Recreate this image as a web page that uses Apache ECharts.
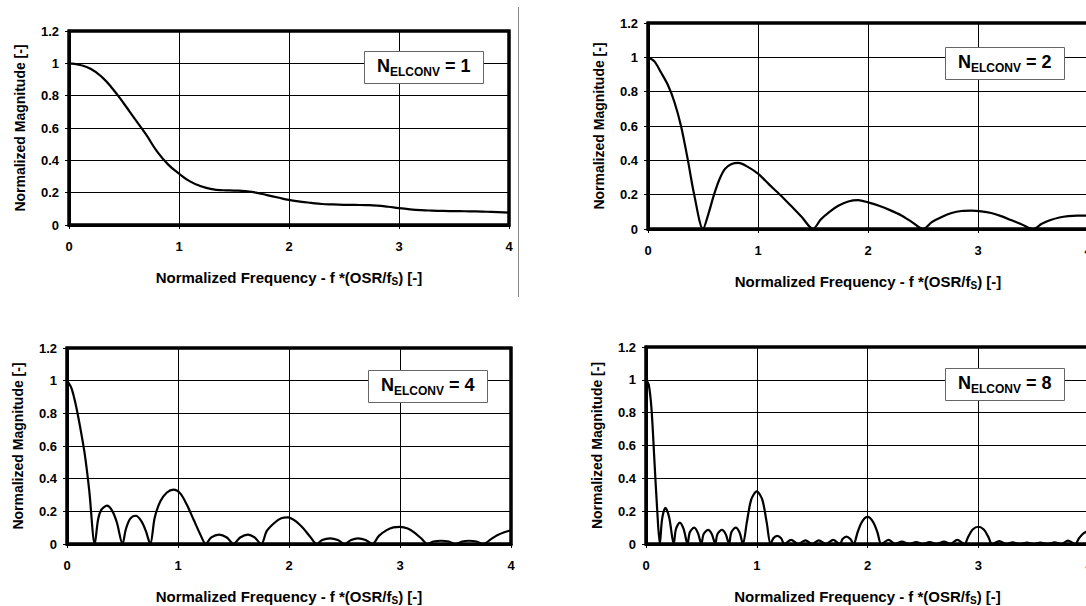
<!DOCTYPE html>
<html><head><meta charset="utf-8">
<script src="https://cdn.jsdelivr.net/npm/echarts@6/dist/echarts.min.js"></script>
<style>html,body{margin:0;padding:0;background:#fff}#c{width:1086px;height:606px}</style>
</head><body><div id="c"></div>
<script>
// ---- data ----
const xTicks = [0, 1, 2, 3, 4];
const yTicks = [0, 0.2, 0.4, 0.6, 0.8, 1, 1.2];
const nValues = ['1', '2', '4', '8'];
const xTitle = ['Normalized Frequency - f *(OSR/f', 'S', ') [-]'];
const yTitle = 'Normalized Magnitude [-]';

const x1 = [0,0.1,0.2,0.3,0.4,0.5,0.6,0.7,0.8,0.9,1.0,1.1,1.2,1.3,1.4,1.5,1.6,1.7,1.8,1.9,2.0,2.1,2.2,2.3,2.4,2.5,2.6,2.7,2.8,2.9,3.0,3.1,3.2,3.3,3.4,3.5,3.6,3.7,3.8,3.9,4.0];
const y1 = [1.0,0.99,0.965,0.915,0.84,0.75,0.655,0.56,0.455,0.375,0.318,0.27,0.24,0.222,0.215,0.213,0.21,0.2,0.185,0.17,0.155,0.145,0.137,0.13,0.127,0.125,0.124,0.123,0.12,0.113,0.104,0.097,0.092,0.089,0.087,0.086,0.085,0.084,0.082,0.08,0.077];

const x2 = [0,0.06,0.12,0.18,0.24,0.3,0.36,0.42,0.5,0.55,0.6,0.65,0.7,0.76,0.82,0.9,1.0,1.1,1.2,1.3,1.4,1.5,1.57,1.65,1.73,1.82,1.91,2.0,2.1,2.2,2.3,2.4,2.5,2.58,2.67,2.76,2.85,2.94,3.03,3.12,3.21,3.3,3.4,3.5,3.58,3.66,3.74,3.82,3.9,4.0];
const y2 = [1.0,0.975,0.91,0.84,0.74,0.6,0.41,0.2,0.0,0.09,0.2,0.29,0.35,0.378,0.385,0.365,0.322,0.26,0.2,0.135,0.068,0.0,0.055,0.1,0.135,0.16,0.168,0.155,0.135,0.11,0.08,0.04,0.0,0.04,0.07,0.093,0.105,0.107,0.103,0.093,0.075,0.052,0.026,0.0,0.03,0.052,0.067,0.075,0.078,0.078];

const x4 = [0,0.04,0.08,0.12,0.16,0.2,0.25,
  0.28,0.31,0.36,0.41,0.45,0.5,
  0.53,0.57,0.62,0.67,0.71,0.75,
  0.79,0.84,0.9,0.96,1.02,1.08,1.14,1.2,1.25,
  1.3,1.37,1.44,1.5,
  1.56,1.63,1.69,1.75,
  1.8,1.87,1.93,1.99,2.06,2.13,2.19,2.25,
  2.3,2.37,2.44,2.5,
  2.56,2.62,2.69,2.75,
  2.81,2.88,2.94,3.0,3.07,3.13,3.19,3.25,
  3.3,3.37,3.44,3.5,
  3.56,3.62,3.69,3.75,
  3.82,3.88,3.94,4.0];
const y4 = [1.0,0.955,0.85,0.71,0.55,0.33,0.0,
  0.15,0.21,0.235,0.2,0.13,0.0,
  0.09,0.155,0.173,0.14,0.08,0.0,
  0.16,0.26,0.315,0.333,0.31,0.24,0.15,0.06,0.0,
  0.04,0.058,0.04,0.0,
  0.04,0.058,0.04,0.0,
  0.08,0.13,0.158,0.163,0.14,0.095,0.045,0.0,
  0.025,0.035,0.025,0.0,
  0.025,0.035,0.025,0.0,
  0.05,0.085,0.102,0.105,0.095,0.07,0.035,0.0,
  0.015,0.02,0.015,0.0,
  0.015,0.02,0.015,0.0,
  0.03,0.055,0.072,0.083];

const x8 = [0,0.025,0.05,0.075,0.1,0.125,
  0.145,0.175,0.21,0.25,
  0.27,0.305,0.34,0.375,
  0.395,0.435,0.47,0.5,
  0.52,0.56,0.595,0.625,
  0.645,0.685,0.72,0.75,
  0.77,0.81,0.845,0.875,
  0.91,0.95,1.0,1.05,1.09,1.125,
  1.15,1.185,1.22,1.25,
  1.31,1.375,1.44,1.5,1.56,1.625,1.69,1.75,
  1.775,1.81,1.845,1.875,
  1.91,1.95,2.0,2.05,2.09,2.125,
  2.19,2.25,2.31,2.375,2.44,2.5,2.56,2.625,2.69,2.75,2.81,2.875,
  2.91,2.95,3.0,3.05,3.09,3.125,
  3.19,3.25,3.31,3.375,3.44,3.5,3.56,3.625,3.69,3.75,3.81,3.875,
  3.91,3.95,4.0];
const y8 = [1.0,0.97,0.82,0.52,0.22,0.0,
  0.15,0.22,0.16,0.0,
  0.09,0.13,0.09,0.0,
  0.07,0.1,0.065,0.0,
  0.06,0.086,0.06,0.0,
  0.06,0.086,0.06,0.0,
  0.07,0.1,0.07,0.0,
  0.13,0.27,0.32,0.27,0.13,0.0,
  0.035,0.05,0.035,0.0,
  0.025,0.0,0.022,0.0,0.022,0.0,0.025,0.0,
  0.03,0.045,0.03,0.0,
  0.07,0.135,0.165,0.135,0.07,0.0,
  0.025,0.0,0.015,0.0,0.012,0.0,0.012,0.0,0.015,0.0,0.025,0.0,
  0.045,0.088,0.105,0.088,0.045,0.0,
  0.018,0.0,0.01,0.0,0.008,0.0,0.008,0.0,0.01,0.0,0.02,0.0,
  0.035,0.065,0.08];

// ---- layout ----
const FONT = '"Liberation Sans", Arial, sans-serif';
const panels = [
  {xs: x1, ys: y1, grid: {left: 69, top: 31, width: 440, height: 194}, box: {left: 364, top: 48}, smooth: true},
  {xs: x2, ys: y2, grid: {left: 648, top: 23, width: 440, height: 206}, box: {left: 945, top: 44}, smooth: 0.3},
  {xs: x4, ys: y4, grid: {left: 67, top: 348, width: 444, height: 196}, box: {left: 368, top: 367}, smooth: 0.3},
  {xs: x8, ys: y8, grid: {left: 646, top: 347, width: 443, height: 197}, box: {left: 945, top: 365}, smooth: 0.3}
];

const grids = [], xAxes = [], yAxes = [], series = [], titles = [], frames = [];
panels.forEach((p, i) => {
  grids.push(Object.assign({show: true, borderColor: '#000', borderWidth: 3, backgroundColor: '#fff', containLabel: false, outerBoundsMode: 'none'}, p.grid));
  frames.push({type: 'rect', z: 100, silent: true,
    shape: {x: p.grid.left, y: p.grid.top, width: p.grid.width, height: p.grid.height},
    style: {fill: null, stroke: '#000', lineWidth: 3}});
  xAxes.push({
    type: 'value', gridIndex: i, min: xTicks[0], max: xTicks[xTicks.length - 1], interval: xTicks[1] - xTicks[0],
    axisLine: {show: true, onZero: false, lineStyle: {color: '#000', width: 3}},
    axisTick: {show: true, length: 4, lineStyle: {color: '#000', width: 1}},
    splitLine: {show: true, lineStyle: {color: '#000', width: 1}},
    axisLabel: {color: '#000', fontFamily: FONT, fontWeight: 'bold', fontSize: 13, margin: 15, hideOverlap: false},
    name: '{a|' + xTitle[0] + '}{s|' + xTitle[1] + '}{a|' + xTitle[2] + '}',
    nameLocation: 'middle', nameGap: 43,
    nameTextStyle: {rich: {
      a: {fontFamily: FONT, fontWeight: 'bold', fontSize: 15, color: '#000', lineHeight: 18, verticalAlign: 'middle'},
      s: {fontFamily: FONT, fontWeight: 'bold', fontSize: 10, color: '#000', lineHeight: 10, verticalAlign: 'bottom'}
    }}
  });
  yAxes.push({
    type: 'value', gridIndex: i, min: yTicks[0], max: yTicks[yTicks.length - 1], interval: yTicks[1] - yTicks[0],
    axisLine: {show: true, onZero: false, lineStyle: {color: '#000', width: 3}},
    axisTick: {show: true, length: 4, lineStyle: {color: '#000', width: 1}},
    splitLine: {show: true, lineStyle: {color: '#000', width: 1}},
    axisLabel: {color: '#000', fontFamily: FONT, fontWeight: 'bold', fontSize: 13, margin: 10},
    name: yTitle, nameLocation: 'middle', nameGap: 42, nameRotate: 90,
    nameTextStyle: {fontFamily: FONT, fontWeight: 'bold', fontSize: 14, color: '#000'}
  });
  series.push({
    type: 'line', xAxisIndex: i, yAxisIndex: i, showSymbol: false, smooth: p.smooth,
    lineStyle: {color: '#000', width: 2.2}, itemStyle: {color: '#000'},
    data: p.xs.map((x, k) => [x, p.ys[k]]), z: 5
  });
  titles.push({
    left: p.box.left, top: p.box.top,
    text: '{n|N}{s|ELCONV}{n| = ' + nValues[i] + '}',
    backgroundColor: '#fff', borderColor: '#666', borderWidth: 1,
    padding: [6, 13, 6, 13], z: 110,
    textStyle: {rich: {
      n: {fontFamily: FONT, fontWeight: 'bold', fontSize: 18, color: '#000', lineHeight: 24, verticalAlign: 'middle'},
      s: {fontFamily: FONT, fontWeight: 'bold', fontSize: 12, color: '#000', lineHeight: 13, verticalAlign: 'bottom'}
    }}
  });
});

const chart = echarts.init(document.getElementById('c'), null, {renderer: 'svg', width: 1086, height: 606});
chart.setOption({
  animation: false,
  backgroundColor: '#fff',
  title: titles,
  grid: grids,
  xAxis: xAxes,
  yAxis: yAxes,
  series: series,
  graphic: frames.concat([{type: 'line', silent: true, shape: {x1: 518.5, y1: 7, x2: 518.5, y2: 297}, style: {stroke: '#888', lineWidth: 1}}])
});
</script></body></html>
